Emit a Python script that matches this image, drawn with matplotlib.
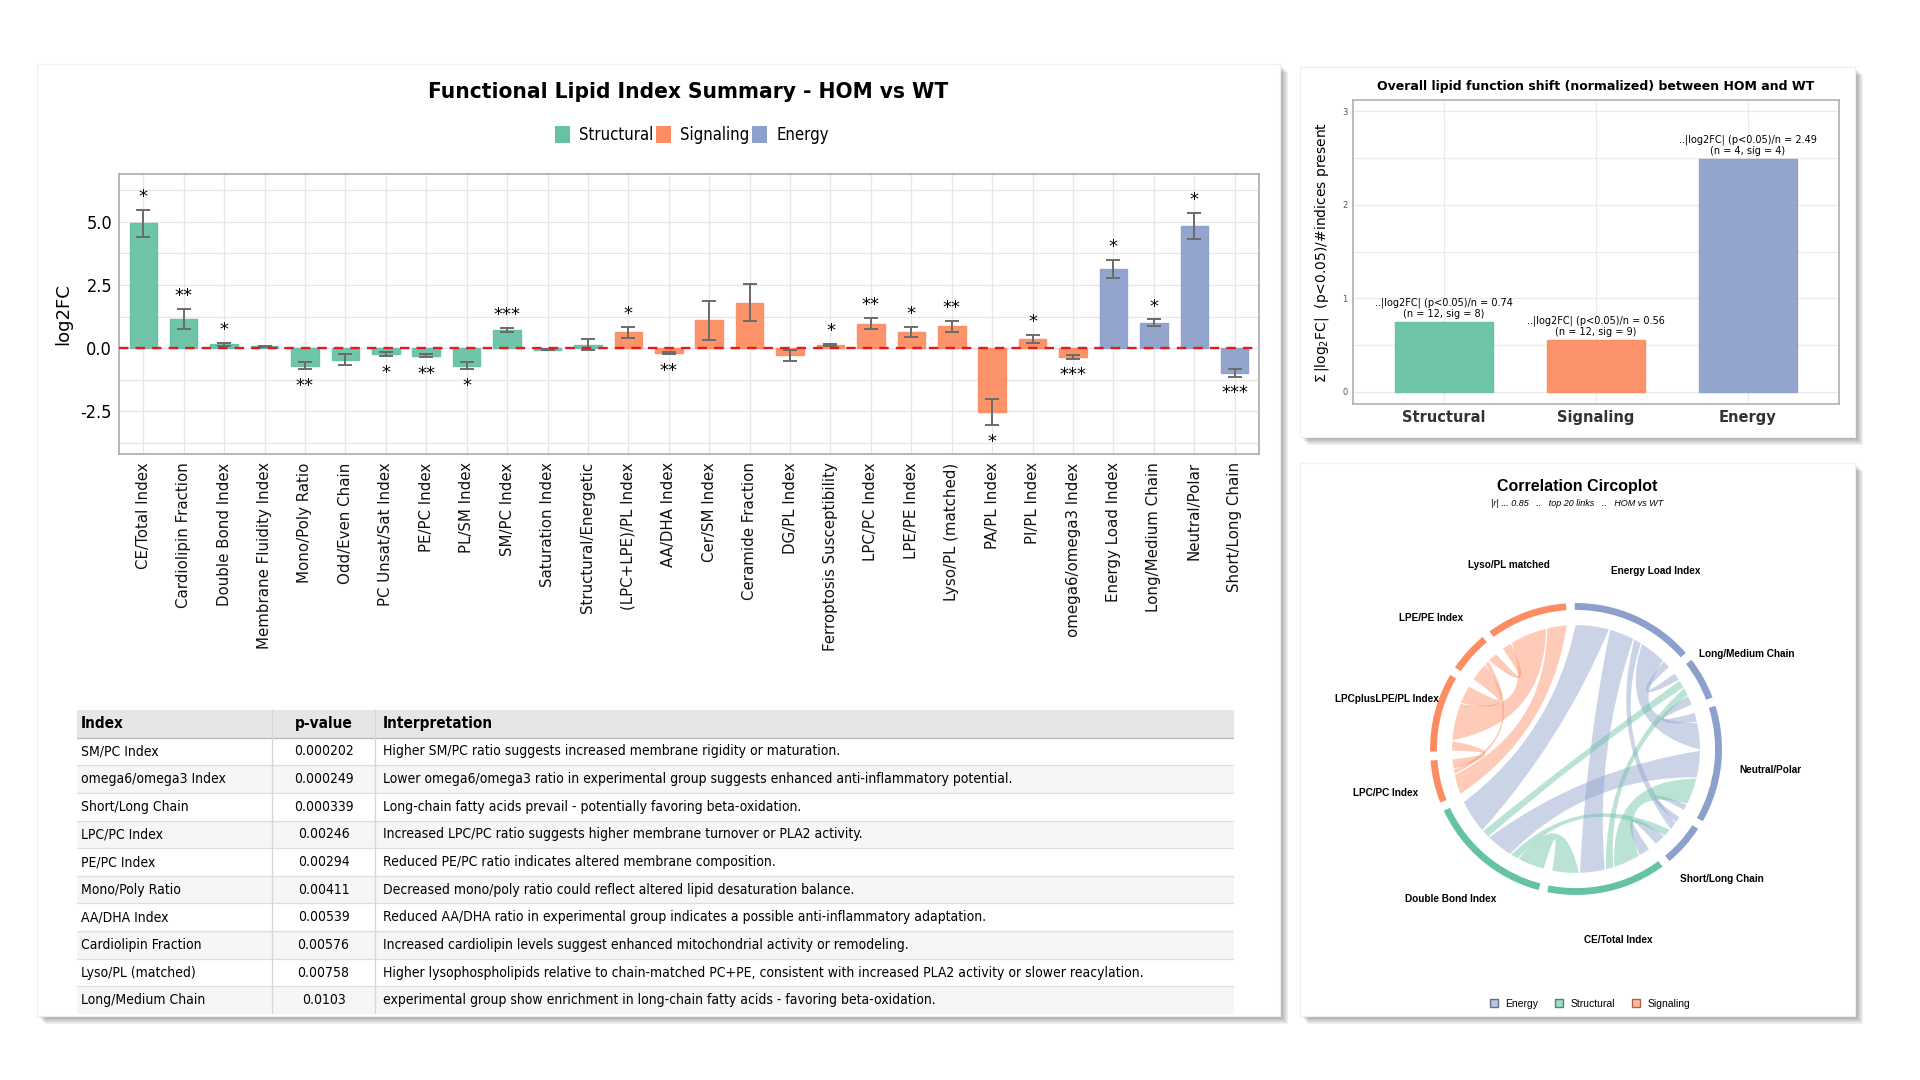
"""
Lipid index dashboard: per-index log2FC bars, category summary, table and a chord plot.
"""
import numpy as np
import matplotlib.pyplot as plt
from matplotlib import font_manager as fm
from matplotlib.colors import to_rgba
from matplotlib.patches import Rectangle, Wedge, PathPatch, Patch
from matplotlib.path import Path

plt.rcParams['axes.unicode_minus'] = False

# ---------------- data ----------------
index_names = [
    'CE/Total Index', 'Cardiolipin Fraction', 'Double Bond Index', 'Membrane Fluidity Index',
    'Mono/Poly Ratio', 'Odd/Even Chain', 'PC Unsat/Sat Index', 'PE/PC Index', 'PL/SM Index',
    'SM/PC Index', 'Saturation Index', 'Structural/Energetic',
    '(LPC+LPE)/PL Index', 'AA/DHA Index', 'Cer/SM Index', 'Ceramide Fraction', 'DG/PL Index',
    'Ferroptosis Susceptibility', 'LPC/PC Index', 'LPE/PE Index', 'Lyso/PL (matched)',
    'PA/PL Index', 'PI/PL Index', 'omega6/omega3 Index',
    'Energy Load Index', 'Long/Medium Chain', 'Neutral/Polar', 'Short/Long Chain',
]
index_groups = ['Structural'] * 12 + ['Signaling'] * 12 + ['Energy'] * 4
log2fc = [4.95, 1.15, 0.15, 0.07, -0.70, -0.46, -0.24, -0.31, -0.71, 0.72, -0.07, 0.14,
          0.62, -0.20, 1.10, 1.80, -0.28, 0.13, 0.97, 0.64, 0.86, -2.54, 0.36, -0.36,
          3.13, 1.00, 4.84, -0.98]
log2fc_err = [0.53, 0.40, 0.06, 0.03, 0.15, 0.21, 0.08, 0.06, 0.14, 0.09, 0.02, 0.22,
              0.22, 0.05, 0.77, 0.73, 0.22, 0.05, 0.23, 0.21, 0.21, 0.51, 0.15, 0.07,
              0.36, 0.14, 0.52, 0.15]
sig_stars = ['*', '**', '*', '', '**', '', '*', '**', '*', '***', '', '',
             '*', '**', '', '', '', '*', '**', '*', '**', '*', '*', '***',
             '*', '*', '*', '***']

group_order = ['Structural', 'Signaling', 'Energy']
group_colors = {'Structural': '#66c2a5', 'Signaling': '#fc8d62', 'Energy': '#8da0cb'}

table_index = ['SM/PC Index', 'omega6/omega3 Index', 'Short/Long Chain', 'LPC/PC Index',
               'PE/PC Index', 'Mono/Poly Ratio', 'AA/DHA Index', 'Cardiolipin Fraction',
               'Lyso/PL (matched)', 'Long/Medium Chain']
table_pvalue = ['0.000202', '0.000249', '0.000339', '0.00246', '0.00294', '0.00411',
                '0.00539', '0.00576', '0.00758', '0.0103']
table_text = [
    'Higher SM/PC ratio suggests increased membrane rigidity or maturation.',
    'Lower omega6/omega3 ratio in experimental group suggests enhanced anti-inflammatory potential.',
    'Long-chain fatty acids prevail - potentially favoring beta-oxidation.',
    'Increased LPC/PC ratio suggests higher membrane turnover or PLA2 activity.',
    'Reduced PE/PC ratio indicates altered membrane composition.',
    'Decreased mono/poly ratio could reflect altered lipid desaturation balance.',
    'Reduced AA/DHA ratio in experimental group indicates a possible anti-inflammatory adaptation.',
    'Increased cardiolipin levels suggest enhanced mitochondrial activity or remodeling.',
    'Higher lysophospholipids relative to chain-matched PC+PE, consistent with increased PLA2 activity or slower reacylation.',
    'experimental group show enrichment in long-chain fatty acids - favoring beta-oxidation.',
]

circ_sectors = ['Energy Load Index', 'Long/Medium Chain', 'Neutral/Polar', 'Short/Long Chain',
                'CE/Total Index', 'Double Bond Index', 'LPC/PC Index', 'LPCplusLPE/PL Index',
                'LPE/PE Index', 'Lyso/PL matched']
circ_groups = ['Energy'] * 4 + ['Structural'] * 2 + ['Signaling'] * 4
# (from, to, ribbon width)
circ_links = [
    ('Lyso/PL matched', 'LPCplusLPE/PL Index', 1.1),
    ('Lyso/PL matched', 'LPC/PC Index', 0.6),
    ('Lyso/PL matched', 'LPE/PE Index', 0.3),
    ('LPE/PE Index', 'LPCplusLPE/PL Index', 0.55),
    ('LPCplusLPE/PL Index', 'LPC/PC Index', 0.3),
    ('LPE/PE Index', 'LPC/PC Index', 0.15),
    ('Energy Load Index', 'Double Bond Index', 1.0),
    ('Energy Load Index', 'CE/Total Index', 0.75),
    ('Energy Load Index', 'Neutral/Polar', 0.8),
    ('Energy Load Index', 'Long/Medium Chain', 0.25),
    ('Energy Load Index', 'Short/Long Chain', 0.25),
    ('Long/Medium Chain', 'Neutral/Polar', 0.3),
    ('Neutral/Polar', 'Short/Long Chain', 0.2),
    ('Neutral/Polar', 'Double Bond Index', 0.8),
    ('Short/Long Chain', 'CE/Total Index', 0.35),
    ('CE/Total Index', 'Neutral/Polar', 0.8),
    ('CE/Total Index', 'Double Bond Index', 0.8),
    ('CE/Total Index', 'Long/Medium Chain', 0.25),
    ('Double Bond Index', 'Long/Medium Chain', 0.25),
    ('Double Bond Index', 'Short/Long Chain', 0.25),
]

# ---------------- fonts ----------------
_have = {(f.name, f.stretch) for f in fm.fontManager.ttflist}
if ('DejaVu Sans', 'condensed') in _have:
    NARROW = dict(family='DejaVu Sans', stretch='condensed')
elif any(n == 'Liberation Sans Narrow' for n, _ in _have):
    NARROW = dict(family='Liberation Sans Narrow')
else:
    NARROW = dict(family='DejaVu Sans')
ARIAL = dict(family='Liberation Sans')

W, H = 1920, 1080
fig = plt.figure(figsize=(19.2, 10.8), dpi=100)
fig.patch.set_facecolor('white')


def fbox(x0, y0, x1, y1):
    """pixel box (y from top) -> figure rect"""
    return [x0 / W, 1 - y1 / H, (x1 - x0) / W, (y1 - y0) / H]


def card(x0, y0, x1, y1):
    for k in range(1, 13):
        fig.add_artist(Rectangle(((x0 + k * 0.7) / W, 1 - (y1 + k * 0.7) / H),
                                 (x1 - x0) / W, (y1 - y0) / H, transform=fig.transFigure,
                                 facecolor='black', edgecolor='none', alpha=0.03, zorder=-5))
    fig.add_artist(Rectangle((x0 / W, 1 - y1 / H), (x1 - x0) / W, (y1 - y0) / H,
                             transform=fig.transFigure, facecolor='white',
                             edgecolor='#f0f0f0', lw=0.8, zorder=-4))


card(37, 64, 1280, 1016)
card(1300, 67, 1855, 437)
card(1300, 463, 1855, 1016)

# ---------------- main bar chart ----------------
ax = fig.add_axes(fbox(119, 174, 1259, 454))
x = np.arange(len(index_names))
cols = [group_colors[g] for g in index_groups]
ax.bar(x, log2fc, width=0.68, color=cols, edgecolor=cols, alpha=0.95, zorder=2)
ax.errorbar(x, log2fc, yerr=log2fc_err, fmt='none', ecolor='#6b6b6b', elinewidth=1.4,
            capsize=5, capthick=1.4, zorder=3)
ax.axhline(0, color='#e8191c', ls=(0, (4, 3)), lw=1.7, zorder=4)
for xi, v, e, s in zip(x, log2fc, log2fc_err, sig_stars):
    if not s:
        continue
    if v >= 0:
        ax.text(xi, v + e + 0.15, s, ha='center', va='bottom', fontsize=13)
    else:
        ax.text(xi, v - e - 0.3, s, ha='center', va='top', fontsize=13)
ax.set_xlim(-0.6, len(x) - 0.4)
ax.set_ylim(-4.2, 6.9)
ax.set_yticks([-2.5, 0, 2.5, 5.0])
ax.set_yticklabels(['-2.5', '0.0', '2.5', '5.0'], fontsize=13, **NARROW)
ax.set_yticks([-3.75, -1.25, 1.25, 3.75, 6.25], minor=True)
ax.set_xticks(x)
ax.set_xticklabels(index_names, rotation=90, fontsize=10.8, color='#111111')
ax.grid(True, which='both', color='#e6e6e6', lw=0.9)
ax.set_axisbelow(True)
ax.tick_params(which='both', length=0)
ax.tick_params(axis='x', pad=6)
ax.tick_params(axis='y', pad=5)
ax.set_ylabel('log2FC', fontsize=13, labelpad=6)
for sp in ax.spines.values():
    sp.set_color('#aaaaaa')
    sp.set_linewidth(1.2)

fig.text(688 / W, 1 - 92 / H, 'Functional Lipid Index Summary - HOM vs WT', ha='center',
         va='center', fontsize=16.2, fontweight='bold', **NARROW)
fig.legend(handles=[Patch(facecolor=group_colors[g], edgecolor='none') for g in group_order],
           labels=group_order, loc='center', bbox_to_anchor=(692 / W, 1 - 135 / H), ncol=3,
           frameon=False, handlelength=0.9, handleheight=1.2, handletextpad=0.55,
           columnspacing=0.15, prop=dict(size=12, **NARROW))

# ---------------- table ----------------
tax = fig.add_axes(fbox(77, 710, 1234, 1014))
tx0, tx1, ty0, ty1 = 77, 1234, 710, 1014
tax.set_xlim(tx0, tx1)
tax.set_ylim(ty1, ty0)
tax.axis('off')
col_edges = [77, 272, 375, 1234]
nrows = len(table_index) + 1
rh = (ty1 - ty0) / nrows
for r in range(nrows):
    yt = ty0 + r * rh
    bg = '#e6e6e6' if r == 0 else ('#ffffff' if r % 2 == 1 else '#f6f6f6')
    tax.add_patch(Rectangle((tx0, yt), tx1 - tx0, rh, facecolor=bg, edgecolor='none'))
    tax.plot([tx0, tx1], [yt + rh, yt + rh], color='#bbbbbb' if r == 0 else '#dedede', lw=0.9)
for cx in col_edges[1:-1]:
    tax.plot([cx, cx], [ty0, ty1], color='#d6d6d6', lw=0.9)
pcx = (col_edges[1] + col_edges[2]) / 2
hy = ty0 + rh / 2
tax.text(col_edges[0] + 4, hy, 'Index', ha='left', va='center', fontsize=11,
         fontweight='bold', **NARROW)
tax.text(pcx, hy, 'p-value', ha='center', va='center', fontsize=11, fontweight='bold', **NARROW)
tax.text(col_edges[2] + 8, hy, 'Interpretation', ha='left', va='center', fontsize=11,
         fontweight='bold', **NARROW)
for r, (nm, pv, tt) in enumerate(zip(table_index, table_pvalue, table_text), start=1):
    yc = ty0 + r * rh + rh / 2
    tax.text(col_edges[0] + 4, yc, nm, ha='left', va='center', fontsize=10, **NARROW)
    tax.text(pcx, yc, pv, ha='center', va='center', fontsize=10, **NARROW)
    tax.text(col_edges[2] + 8, yc, tt, ha='left', va='center', fontsize=10, **NARROW)

# ---------------- category summary ----------------
ax2 = fig.add_axes(fbox(1353, 100, 1839, 404))
fc = np.array(log2fc)
grp = np.array(index_groups)
sig = np.array([s != '' for s in sig_stars])
summ_n = [int((grp == g).sum()) for g in group_order]
summ_sig = [int(((grp == g) & sig).sum()) for g in group_order]
summ_val = [np.abs(fc[(grp == g) & sig]).sum() / n for g, n in zip(group_order, summ_n)]
gcols = [group_colors[g] for g in group_order]
ax2.bar(range(3), summ_val, width=0.65, color=gcols, edgecolor=gcols, alpha=0.95, zorder=2)
for i, (v, n, s) in enumerate(zip(summ_val, summ_n, summ_sig)):
    ax2.text(i, v + 0.03, f'..|log2FC| (p<0.05)/n = {v:.2f}\n(n = {n}, sig = {s})',
             ha='center', va='bottom', fontsize=7, linespacing=1.15)
ax2.set_xlim(-0.6, 2.6)
ax2.set_ylim(-0.13, 3.12)
ax2.set_xticks(range(3))
ax2.set_xticklabels(group_order, fontsize=10.5, fontweight='bold', color='#333333')
ax2.set_yticks([0, 1, 2, 3])
ax2.set_yticks([0.5, 1.5, 2.5], minor=True)
ax2.tick_params(axis='y', labelsize=6, labelcolor='#555555', length=0, pad=4)
ax2.tick_params(axis='x', length=0, pad=4)
ax2.tick_params(which='minor', length=0)
ax2.grid(True, which='both', color='#ebebeb', lw=0.9)
ax2.set_axisbelow(True)
ax2.set_ylabel(r'$\Sigma\,|\mathrm{log_2FC}|$  (p<0.05)/#indices present', fontsize=10,
               labelpad=8)
ax2.set_title('Overall lipid function shift (normalized) between HOM and WT', fontsize=9,
              fontweight='bold', pad=7)
for sp in ax2.spines.values():
    sp.set_color('#aaaaaa')
    sp.set_linewidth(1.1)

# ---------------- chord plot ----------------
cax = fig.add_axes(fbox(1296, 469, 1856, 1029))
lim = 280 / 137.7
cax.set_xlim(-lim, lim)
cax.set_ylim(-lim, lim)
cax.set_aspect('equal')
cax.axis('off')

N = len(circ_sectors)
pos = {s: i for i, s in enumerate(circ_sectors)}
tot = np.zeros(N)
for a, b, w in circ_links:
    tot[pos[a]] += w
    tot[pos[b]] += w
gap = 3.5
deg_per = (360 - N * gap) / tot.sum()
sec_start, sec_end = [], []
cur = 90.5
for i in range(N):
    span = tot[i] * deg_per
    sec_start.append(cur)
    sec_end.append(cur - span)
    cur -= span + gap

# place each link end inside its sector, ordered to limit crossings
ends = {}
for i in range(N):
    items = []
    for k, (a, b, w) in enumerate(circ_links):
        if pos[a] == i:
            items.append(((pos[b] - i) % N, k, w))
        elif pos[b] == i:
            items.append(((pos[a] - i) % N, k, w))
    items.sort(key=lambda t: -t[0])
    c = sec_start[i]
    for _, k, w in items:
        span = w * deg_per
        ends[(k, i)] = (c - 0.3, c - span + 0.3)
        c -= span

RR = 0.9


def arc(a1, a2, r, n=40):
    t = np.radians(np.linspace(a1, a2, n))
    return np.c_[r * np.cos(t), r * np.sin(t)]


def ctrl(p, q):
    # control point pulled towards the centre, less so for close ends
    d = abs((p - q + 180) % 360 - 180)
    v = np.array([np.cos(np.radians(p)) + np.cos(np.radians(q)),
                  np.sin(np.radians(p)) + np.sin(np.radians(q))])
    nv = np.hypot(*v)
    if nv < 1e-6:
        return (0.0, 0.0)
    return tuple(v / nv * RR * 0.5 * (1 - d / 180) ** 0.8)


def pt(a):
    return (RR * np.cos(np.radians(a)), RR * np.sin(np.radians(a)))


for k, (a, b, w) in enumerate(circ_links):
    a1, a2 = ends[(k, pos[a])]
    b1, b2 = ends[(k, pos[b])]
    A = arc(a1, a2, RR)
    B = arc(b1, b2, RR)
    verts = list(map(tuple, A)) + [ctrl(a2, b1), pt(b1)] + list(map(tuple, B[1:])) + \
        [ctrl(b2, a1), pt(a1), pt(a1)]
    codes = [Path.MOVETO] + [Path.LINETO] * (len(A) - 1) + [Path.CURVE3, Path.CURVE3] + \
        [Path.LINETO] * (len(B) - 1) + [Path.CURVE3, Path.CURVE3, Path.CLOSEPOLY]
    col = group_colors[circ_groups[pos[a]]]
    cax.add_patch(PathPatch(Path(verts, codes), facecolor=to_rgba(col, 0.45),
                            edgecolor='none', zorder=2))

for i, s in enumerate(circ_sectors):
    col = group_colors[circ_groups[i]]
    cax.add_patch(Wedge((0, 0), 1.06, sec_end[i], sec_start[i], width=0.05,
                        facecolor=col, edgecolor='none', zorder=3))
    mid = np.radians((sec_start[i] + sec_end[i]) / 2)
    cax.text(1.42 * np.cos(mid), 1.42 * np.sin(mid), s, ha='center', va='center',
             fontsize=7.2, fontweight='bold', **ARIAL)

fig.text(1577 / W, 1 - 486 / H, 'Correlation Circoplot', ha='center', va='center',
         fontsize=11.5, fontweight='bold', **ARIAL)
fig.text(1577 / W, 1 - 504 / H, '|r| ... 0.85   ..   top 20 links   ..   HOM vs WT',
         ha='center', va='center', fontsize=6.5, style='italic', **ARIAL)


def darker(c, f=0.7):
    r, g, b, _ = to_rgba(c)
    return (r * f, g * f, b * f)


leg_order = ['Energy', 'Structural', 'Signaling']
fig.legend(handles=[Patch(facecolor=to_rgba(group_colors[g], 0.6),
                          edgecolor=darker(group_colors[g]), lw=1.0) for g in leg_order],
           labels=leg_order, loc='center', bbox_to_anchor=(1590 / W, 1 - 1004 / H), ncol=3,
           frameon=False, handlelength=0.8, handleheight=0.8, handletextpad=0.7,
           columnspacing=1.6, prop=dict(size=7.5, **ARIAL))

fig.savefig('out.png', dpi=100, facecolor='white')
